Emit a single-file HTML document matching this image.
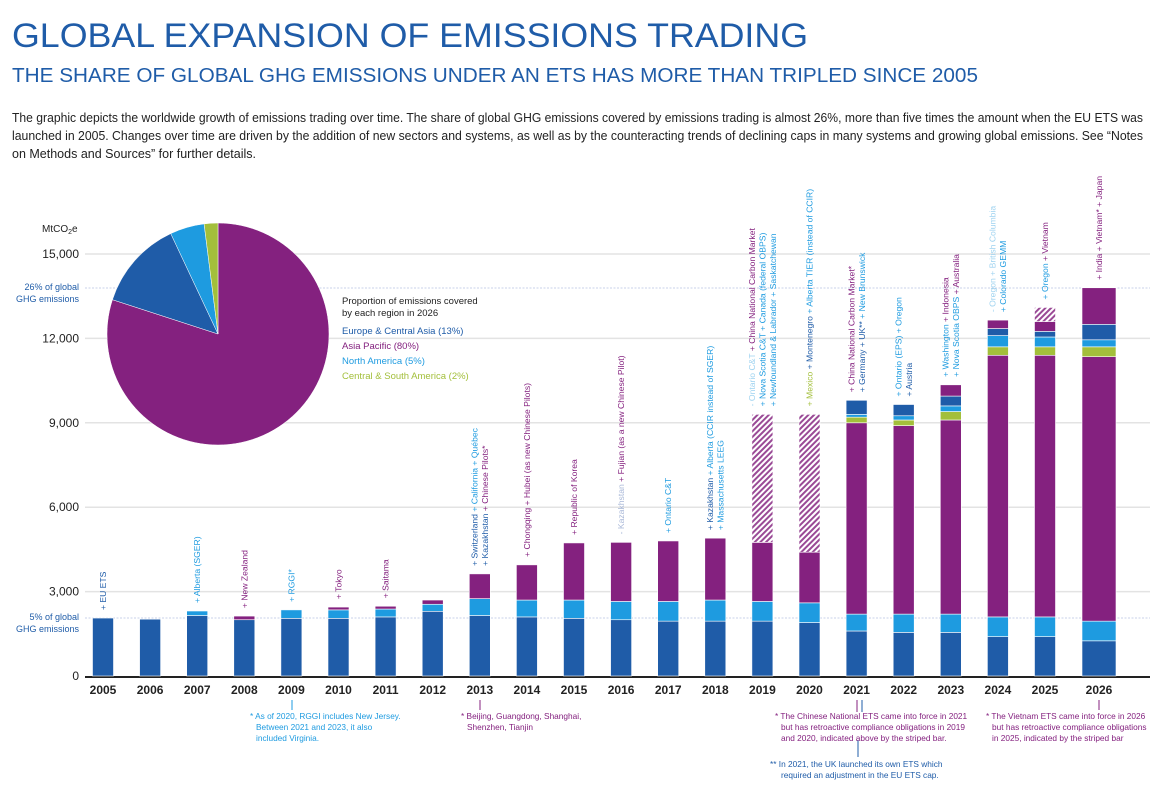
<!DOCTYPE html>
<html><head><meta charset="utf-8"><style>
body{margin:0;background:#fff;}
svg{display:block;font-family:"Liberation Sans",sans-serif;}
</style></head><body>
<svg id="c" width="1152" height="788" viewBox="0 0 1152 788">
<defs>
<pattern id="hatch" width="4" height="4" patternUnits="userSpaceOnUse" patternTransform="rotate(45)">
<rect width="4" height="4" fill="#fff"/><rect width="2" height="4" fill="#9a4a96"/>
</pattern>
</defs>
<text x="12" y="47" font-size="34" fill="#1f5ca8" textLength="796" lengthAdjust="spacingAndGlyphs">GLOBAL EXPANSION OF EMISSIONS TRADING</text>
<text x="12" y="82" font-size="20" fill="#1f5ca8" textLength="966" lengthAdjust="spacingAndGlyphs">THE SHARE OF GLOBAL GHG EMISSIONS UNDER AN ETS HAS MORE THAN TRIPLED SINCE 2005</text>
<g font-size="12.5" fill="#222">
<text x="12" y="122" textLength="1131" lengthAdjust="spacingAndGlyphs">The graphic depicts the worldwide growth of emissions trading over time. The share of global GHG emissions covered by emissions trading is almost 26%, more than five times the amount when the EU ETS was</text>
<text x="12" y="140" textLength="1131" lengthAdjust="spacingAndGlyphs">launched in 2005. Changes over time are driven by the addition of new sectors and systems, as well as by the counteracting trends of declining caps in many systems and growing global emissions. See “Notes</text>
<text x="12" y="158" textLength="244" lengthAdjust="spacingAndGlyphs">on Methods and Sources” for further details.</text>
</g>
<g id="axes"></g>
<g id="bars"></g>
<g id="labels"></g>
<g id="pie"></g>
<g font-size="9.5">
<text x="342" y="304" fill="#222">Proportion of emissions covered</text>
<text x="342" y="316" fill="#222">by each region in 2026</text>
<text x="342" y="334" fill="#1f5ca8">Europe &amp; Central Asia (13%)</text>
<text x="342" y="349" fill="#84217f">Asia Pacific (80%)</text>
<text x="342" y="364" fill="#1e9be0">North America (5%)</text>
<text x="342" y="379" fill="#a3bf3b">Central &amp; South America (2%)</text>
</g>
<g font-size="8.3">
<line x1="292" y1="700" x2="292" y2="710" stroke="#1e9be0"/>
<line x1="480" y1="700" x2="480" y2="710" stroke="#84217f"/>
<line x1="857" y1="700" x2="857" y2="712" stroke="#84217f"/>
<line x1="862" y1="700" x2="862" y2="712" stroke="#1f5ca8"/>
<line x1="858" y1="740" x2="858" y2="757" stroke="#1f5ca8"/>
<line x1="1099" y1="700" x2="1099" y2="710" stroke="#84217f"/>
<text x="250" y="719" fill="#1e9be0"><tspan x="250">* As of 2020, RGGI includes New Jersey.</tspan><tspan x="256" dy="11">Between 2021 and 2023, it also</tspan><tspan x="256" dy="11">included Virginia.</tspan></text>
<text x="461" y="719" fill="#84217f"><tspan x="461">* Beijing, Guangdong, Shanghai,</tspan><tspan x="467" dy="11">Shenzhen, Tianjin</tspan></text>
<text x="775" y="719" fill="#84217f"><tspan x="775">* The Chinese National ETS came into force in 2021</tspan><tspan x="781" dy="11">but has retroactive compliance obligations in 2019</tspan><tspan x="781" dy="11">and 2020, indicated above by the striped bar.</tspan></text>
<text x="986" y="719" fill="#84217f"><tspan x="986">* The Vietnam ETS came into force in 2026</tspan><tspan x="992" dy="11">but has retroactive compliance obligations</tspan><tspan x="992" dy="11">in 2025, indicated by the striped bar</tspan></text>
<text x="770" y="767" fill="#1f5ca8"><tspan x="770">** In 2021, the UK launched its own ETS which</tspan><tspan x="781" dy="11">required an adjustment in the EU ETS cap.</tspan></text>
</g>
</svg>
<script>
const years=[2005,2006,2007,2008,2009,2010,2011,2012,2013,2014,2015,2016,2017,2018,2019,2020,2021,2022,2023,2024,2025,2026];
const europe=[2060,2020,2150,2000,2050,2050,2100,2300,2150,2100,2050,2000,1950,1950,1950,1900,1600,1550,1550,1400,1400,1250];
const northAmerica=[0,0,160,0,300,300,280,250,600,600,650,650,700,750,700,700,600,650,650,700,700,700];
const asiaPacific=[0,0,0,130,0,100,100,150,880,1250,2030,2100,2150,2200,2100,1800,6800,6700,6900,9300,9300,9400];
const centralSouth=[0,0,0,0,0,0,0,0,0,0,0,0,0,0,0,0,200,200,300,300,300,350];
const northAmerica2=[0,0,0,0,0,0,0,0,0,0,0,0,0,0,0,0,100,150,200,400,350,250];
const europe2=[0,0,0,0,0,0,0,0,0,0,0,0,0,0,0,0,500,400,350,250,200,550];
const asiaPacific2=[0,0,0,0,0,0,0,0,0,0,0,0,0,0,0,0,0,0,400,300,350,1300];
const striped=[0,0,0,0,0,0,0,0,0,0,0,0,0,0,4550,4900,0,0,0,0,500,0];
const yTicks=[0,3000,6000,9000,12000,15000];
const pieLabels=["Asia Pacific","Europe & Central Asia","North America","Central & South America"];
const pieShares=[80,13,5,2];

const NS="http://www.w3.org/2000/svg";
const C={eu:"#1f5ca8",na:"#1e9be0",cs:"#a3bf3b",ap:"#84217f",pale:"#a9b8d8",paleL:"#9fd3f0"};
function mk(tag,attrs,parent){const e=document.createElementNS(NS,tag);for(const k in attrs)e.setAttribute(k,attrs[k]);parent.appendChild(e);return e;}
const y0=676,pxPer=422/15000;
const yS=v=>y0-v*pxPer;
const xS=i=>i<=20?103+47.1*i:1099;
const wS=i=>i===21?34:21;

const axes=document.getElementById('axes');
yTicks.forEach(t=>{
  if(t>0){const g=mk('line',{x1:85,x2:1150,y1:yS(t),y2:yS(t),stroke:'#e3e3e3','stroke-width':1.5},axes);
  
  }
  const tx=mk('text',{x:79,y:yS(t)+4,'text-anchor':'end','font-size':12,fill:'#222'},axes);
  
  
  tx.textContent=t.toLocaleString('en-US');
});
const unit=mk('text',{x:42,y:232,'font-size':10,fill:'#222'},axes);


unit.innerHTML='MtCO<tspan font-size="7" dy="2">2</tspan><tspan dy="-2">e</tspan>';
[[288,'26% of global'],[618,'5% of global']].forEach(([yy,t],k)=>{
  const l=mk('line',{x1:85,x2:1150,y1:yy,y2:yy,stroke:'#c8d2ea','stroke-dasharray':'2,1.5'},axes);
  
  
  const a=mk('text',{x:79,y:yy+2,'text-anchor':'end','font-size':9,fill:'#1f5ca8'},axes);
  
  
  a.innerHTML='<tspan x="79">'+t+'</tspan><tspan x="79" dy="12">GHG emissions</tspan>';
});
const ax=mk('line',{x1:85,x2:1150,y1:y0+1,y2:y0+1,stroke:'#222','stroke-width':2},axes);


years.forEach((yr,i)=>{
  const t=mk('text',{x:xS(i),y:694,'text-anchor':'middle','font-size':12,'font-weight':'bold',fill:'#222'},axes);
  
  
  t.textContent=yr;
});

const bars=document.getElementById('bars');
const series=[[europe,C.eu,'europe'],[northAmerica,C.na,'north-america'],[asiaPacific,C.ap,'asia-pacific'],[centralSouth,C.cs,'central-south-america'],[northAmerica2,C.na,'north-america-added'],[europe2,C.eu,'europe-added'],[asiaPacific2,C.ap,'asia-pacific-added'],[striped,'url(#hatch)','retroactive-striped']];
const tops=[];
years.forEach((yr,i)=>{
  let acc=0;
  series.forEach(([arr,col,nm])=>{
    const v=arr[i];if(!v)return;
    const r=mk('rect',{x:xS(i)-wS(i)/2,y:yS(acc+v),width:wS(i),height:yS(acc)-yS(acc+v),fill:col,stroke:'#fff','stroke-width':0.6},bars);
    
    
    acc+=v;
  });
  tops.push(acc);
});

const ann={
2005:[[['+ EU ETS',C.eu]]],
2007:[[['+ Alberta (SGER)',C.na]]],
2008:[[['+ New Zealand',C.ap]]],
2009:[[['+ RGGI*',C.na]]],
2010:[[['+ Tokyo',C.ap]]],
2011:[[['+ Saitama',C.ap]]],
2013:[[['+ Switzerland ',C.eu],['+ California + Québec',C.na]],[['+ Kazakhstan ',C.eu],['+ Chinese Pilots*',C.ap]]],
2014:[[['+ Chongqing + Hubei (as new Chinese Pilots)',C.ap]]],
2015:[[['+ Republic of Korea',C.ap]]],
2016:[[['- Kazakhstan ',C.pale],['+ Fujian (as a new Chinese Pilot)',C.ap]]],
2017:[[['+ Ontario C&T',C.na]]],
2018:[[['+ Kazakhstan ',C.eu],['+ Alberta (CCIR instead of SGER)',C.na]],[['+ Massachusetts LEEG',C.na]]],
2019:[[['- Ontario C&T ',C.paleL],['+ China National Carbon Market',C.ap]],[['+ Nova Scotia C&T + Canada (federal OBPS)',C.na]],[['+ Newfoundland & Labrador + Saskatchewan',C.na]]],
2020:[[['+ Mexico ',C.cs],['+ Montenegro ',C.eu],['+ Alberta TIER (instead of CCIR)',C.na]]],
2021:[[['+ China National Carbon Market*',C.ap]],[['+ Germany + UK** ',C.eu],['+ New Brunswick',C.na]]],
2022:[[['+ Ontario (EPS) + Oregon',C.na]],[['+ Austria',C.eu]]],
2023:[[['+ Washington ',C.na],['+ Indonesia',C.ap]],[['+ Nova Scotia OBPS ',C.na],['+ Australia',C.ap]]],
2024:[[['- Oregon + British Columbia',C.paleL]],[['+ Colorado GEMM',C.na]]],
2025:[[['+ Oregon ',C.na],['+ Vietnam',C.ap]]],
2026:[[['+ India + Vietnam* + Japan',C.ap]]]
};
const labels=document.getElementById('labels');
years.forEach((yr,i)=>{
  const lines=ann[yr];if(!lines)return;
  const base=yS(tops[i])-8;
  lines.forEach((ln,k)=>{
    const cx=xS(i)+(k-(lines.length-1)/2)*10.5+3;
    const t=mk('text',{x:cx,y:base,'font-size':8.6,transform:`rotate(-90 ${cx} ${base})`},labels);
    
    
    ln.forEach(([s,c])=>{const sp=mk('tspan',{fill:c},t);sp.textContent=s;});
  });
});

const pie=document.getElementById('pie');
const pcx=218,pcy=334,pr=111;
const pcols=[C.ap,C.eu,C.na,C.cs];
const tot=pieShares.reduce((a,b)=>a+b,0);
let a0=0;
pieShares.forEach((s,k)=>{
  const a1=a0+s/tot*2*Math.PI;
  const p=(a)=>[pcx+pr*Math.sin(a),pcy-pr*Math.cos(a)];
  const [x0,y0p]=p(a0),[x1,y1]=p(a1);
  const path=mk('path',{d:`M${pcx},${pcy}L${x0},${y0p}A${pr},${pr} 0 ${a1-a0>Math.PI?1:0} 1 ${x1},${y1}Z`,fill:pcols[k],stroke:'#fff','stroke-width':0.5},pie);
  
  
  a0=a1;
});
</script>
</body></html>
